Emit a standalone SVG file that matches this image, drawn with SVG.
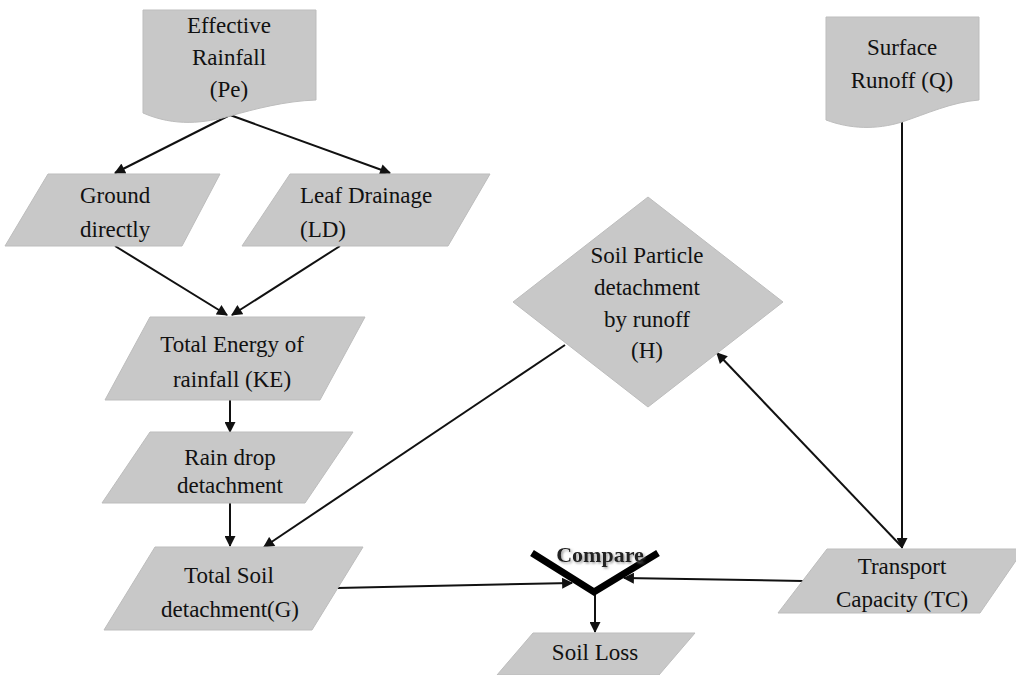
<svg xmlns="http://www.w3.org/2000/svg" width="1016" height="675" viewBox="0 0 1016 675">
<style>
.shape{fill:#c8c8c8;stroke:#bdbdbd;stroke-width:1}
.lbl{font-family:"Liberation Serif","Times New Roman",serif;font-size:23px;fill:#111;text-anchor:middle}
.lbl-start{text-anchor:start}
.conn{stroke:#111;stroke-width:2;fill:none}
.conn-end{marker-end:url(#arrow)}
.cmp{stroke:#000;stroke-width:7;fill:none;stroke-linejoin:miter}
.cmp-text{font-family:"Liberation Serif","Times New Roman",serif;font-size:22px;font-weight:bold;fill:#222;text-anchor:middle}
</style>
<defs>
<marker id="arrow" viewBox="0 0 10 10" refX="9" refY="5" markerWidth="6" markerHeight="5.5" orient="auto" markerUnits="strokeWidth">
<path d="M0,0 L10,5 L0,10 Z" fill="#111"/>
</marker>
<filter id="shadow" x="-10%" y="-20%" width="130%" height="160%">
<feDropShadow dx="1.5" dy="1.5" stdDeviation="0.8" flood-color="#888" flood-opacity="0.8"/>
</filter>
</defs>
<rect width="1016" height="675" fill="#fff"/>

<g id="connectors">
<line class="conn conn-end" x1="230" y1="115" x2="115" y2="173"/>
<line class="conn conn-end" x1="230" y1="115" x2="390" y2="173"/>
<line class="conn conn-end" x1="115" y1="246" x2="227" y2="315"/>
<line class="conn conn-end" x1="340" y1="246" x2="232" y2="315"/>
<line class="conn conn-end" x1="230" y1="400" x2="230" y2="432"/>
<line class="conn conn-end" x1="230" y1="503" x2="230" y2="546"/>
<line class="conn conn-end" x1="565" y1="345" x2="264" y2="547"/>
<line class="conn conn-end" x1="902" y1="122" x2="902" y2="548"/>
<line class="conn conn-end" x1="902" y1="547" x2="717" y2="353"/>
<line class="conn conn-end" x1="337" y1="588" x2="572" y2="583"/>
<line class="conn conn-end" x1="803" y1="581" x2="624" y2="578"/>
<line class="conn conn-end" x1="595" y1="593" x2="595" y2="632"/>
</g>

<g id="effective-rainfall">
<path class="shape" d="M143,10 L316,10 L316,100 C285,101 255,109 230,116 C205,123 175,127 143,113 Z"/>
<text class="lbl" x="229" y="33">Effective</text>
<text class="lbl" x="229" y="65">Rainfall</text>
<text class="lbl" x="229" y="97">(Pe)</text>
</g>

<g id="surface-runoff">
<path class="shape" d="M826,17 L979,17 L979,100 C952,102 926,114 902,122 C876,130 850,129 826,120 Z"/>
<text class="lbl" x="902" y="55">Surface</text>
<text class="lbl" x="902" y="88">Runoff (Q)</text>
</g>

<g id="ground-directly">
<polygon class="shape" points="48,174 220,174 182,246 5,246"/>
<text class="lbl lbl-start" x="80" y="203">Ground</text>
<text class="lbl lbl-start" x="80" y="237">directly</text>
</g>

<g id="leaf-drainage">
<polygon class="shape" points="290,174 490,174 448,246 242,246"/>
<text class="lbl lbl-start" x="300" y="203">Leaf Drainage</text>
<text class="lbl lbl-start" x="300" y="237">(LD)</text>
</g>

<g id="total-energy">
<polygon class="shape" points="150,317 365,317 320,400 105,400"/>
<text class="lbl" x="232" y="352">Total Energy of</text>
<text class="lbl" x="232" y="387">rainfall (KE)</text>
</g>

<g id="rain-drop">
<polygon class="shape" points="150,432 353,432 305,503 102,503"/>
<text class="lbl" x="230" y="465">Rain drop</text>
<text class="lbl" x="230" y="493">detachment</text>
</g>

<g id="total-soil">
<polygon class="shape" points="155,547 363,547 312,630 104,630"/>
<text class="lbl" x="229" y="583">Total Soil</text>
<text class="lbl" x="230" y="617">detachment(G)</text>
</g>

<g id="soil-particle-detachment">
<polygon class="shape" points="648,197 783,302 648,407 513,302"/>
<text class="lbl" x="647" y="263">Soil Particle</text>
<text class="lbl" x="647" y="295">detachment</text>
<text class="lbl" x="647" y="327">by runoff</text>
<text class="lbl" x="647" y="358">(H)</text>
</g>

<g id="transport-capacity">
<polygon class="shape" points="827,549 1024,549 980,613 778,613"/>
<text class="lbl" x="902" y="574">Transport</text>
<text class="lbl" x="902" y="607">Capacity (TC)</text>
</g>

<g id="compare">
<polyline class="cmp" points="532,553 594,592 658,553"/>
<text class="cmp-text" x="600" y="562" filter="url(#shadow)">Compare</text>
</g>

<g id="soil-loss">
<polygon class="shape" points="533,633 695,633 659,675 497,675"/>
<text class="lbl" x="595" y="660">Soil Loss</text>
</g>
</svg>
